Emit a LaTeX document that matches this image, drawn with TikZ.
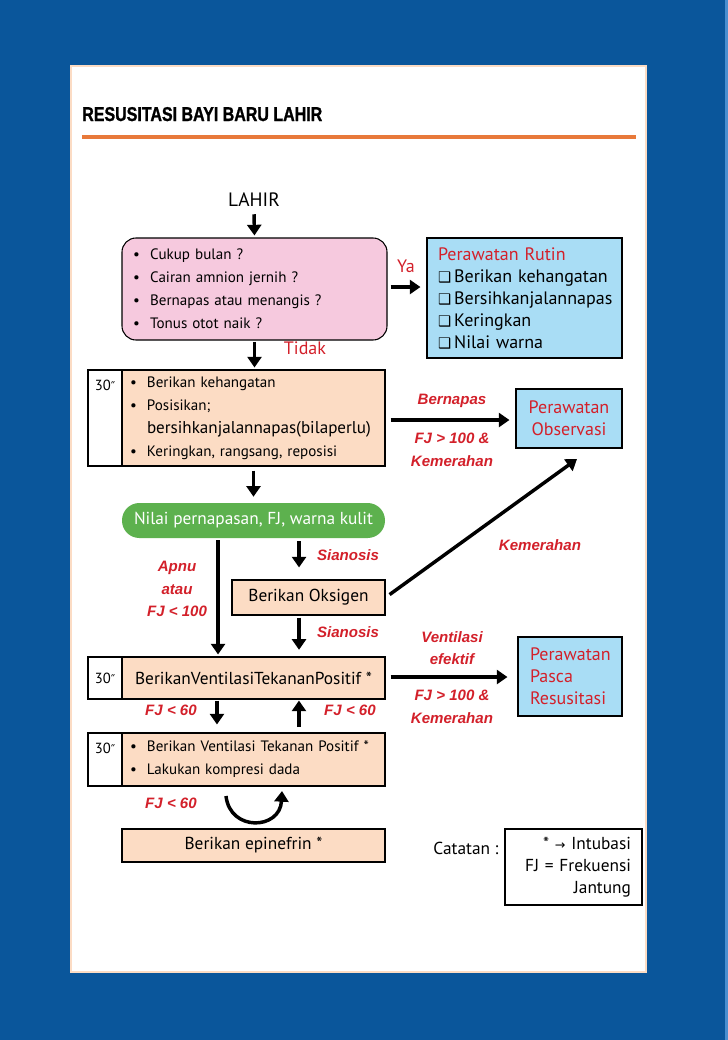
\documentclass[tikz,border=0pt]{standalone}
\usepackage{fontspec}
\setmainfont{PT Sans}
\newfontfamily\labelfont{Liberation Sans}
\newfontfamily\titlefont[FakeStretch=0.8,BoldFeatures={FakeBold=1.2}]{Liberation Sans}
\newfontfamily\symfont{DejaVu Sans}
\usetikzlibrary{arrows.meta}

\definecolor{pageblue}{HTML}{0A569B}
\definecolor{stripblue}{HTML}{4A8FD0}
\definecolor{titleorange}{HTML}{E8793A}
\definecolor{pinkfill}{HTML}{F6C9DE}
\definecolor{peachfill}{HTML}{FCDCC4}
\definecolor{skyfill}{HTML}{A9DDF5}
\definecolor{greenfill}{HTML}{5DB14E}
\definecolor{labelred}{HTML}{D3202A}

\newcommand\butir{\makebox[12.75pt][l]{\textbullet}}
\newcommand\kotak{{\symfont\fontsize{11}{10}\selectfont ❑}\,}
\newcommand\detik{30{\symfont\fontsize{9}{10}\selectfont ″}}

\begin{document}
\begin{tikzpicture}[x=0.75pt,y=-0.75pt,
  panah/.style={line width=2.6pt,-{Triangle[length=8pt,width=10.5pt]}},
  kotakpeach/.style={draw,line width=0.8pt,fill=peachfill},
  kotaksel/.style={draw,line width=0.8pt,fill=white,minimum width=25.5pt,font=\fontsize{11}{12}\selectfont},
  kotakbiru/.style={draw,line width=0.8pt,fill=skyfill,text=labelred,font=\fontsize{13.5}{16.5}\selectfont},
  ketmerah/.style={text=labelred,align=center,font=\labelfont\bfseries\itshape\fontsize{11.3}{17}\selectfont},
  teksmerah/.style={text=labelred,font=\fontsize{13.5}{14}\selectfont},
  teksbox/.style={font=\fontsize{13}{15}\selectfont},
  daftar/.style={align=left,font=\fontsize{11.3}{17.25}\selectfont}]

% halaman
\fill[pageblue] (0,0) rectangle (728,1040);
\fill[stripblue] (725,0) rectangle (728,1040);
\filldraw[fill=white,draw=peachfill,line width=0.8pt] (71,66) rectangle (646,972);
\node[anchor=base west,inner sep=0pt,font=\titlefont\bfseries\fontsize{15}{18}\selectfont] (judul) at (82,121) {RESUSITASI BAYI BARU LAHIR};
\draw[titleorange,line width=3pt] (82,137) -- (636,137);

% kotak-kotak
\node[font=\fontsize{14.5}{15}\selectfont] (lahir) at (254,200) {LAHIR};
\node[draw,line width=0.8pt,fill=pinkfill,rounded corners=10.5pt,minimum width=198.75pt,minimum height=76.5pt,text width=182pt,inner xsep=8.25pt,daftar] (cek) at (254.5,289)
  {\butir Cukup bulan ?\\ \butir Cairan amnion jernih ?\\ \butir Bernapas atau menangis ?\\ \butir Tonus otot naik ?};
\node[kotakbiru,minimum width=146.25pt,minimum height=90pt,text width=129.75pt,inner xsep=8.25pt,align=left] (rutin) at (524.5,298)
  {Perawatan Rutin\\ \textcolor{black}{\kotak Berikan kehangatan}\\ \textcolor{black}{\kotak Bersihkanjalannapas}\\ \textcolor{black}{\kotak Keringkan}\\ \textcolor{black}{\kotak Nilai warna}};

\node[kotakpeach,minimum width=197.25pt,minimum height=72pt,text width=185.25pt,inner xsep=6pt,daftar] (hangat) at (253.5,418)
  {\butir Berikan kehangatan\\ \butir Posisikan;\\ \hspace*{12.75pt}\mbox{\fontsize{12.8}{17.25}\selectfont bersihkanjalannapas(bilaperlu)}\\ \butir Keringkan, rangsang, reposisi};
\node[kotaksel,minimum height=72pt] (sel1) at (105,418) {};
\node[font=\fontsize{11}{12}\selectfont] (waktu1) at (105,385) {\detik};
\node[kotakbiru,minimum width=79.5pt,minimum height=44.25pt,align=center] (observasi) at (569,418.5) {Perawatan\\Observasi};

\node[fill=greenfill,rounded corners=13pt,minimum width=197.25pt,minimum height=26.25pt,text=white,teksbox] (nilai) at (253.5,520.5) {Nilai pernapasan, FJ, warna kulit};
\node[kotakpeach,minimum width=114.75pt,minimum height=26.25pt,teksbox] (oksigen) at (308.5,597.5) {Berikan Oksigen};

\node[kotakpeach,minimum width=197.25pt,minimum height=31.5pt,teksbox] (ventilasi) at (253.5,678) {BerikanVentilasiTekananPositif *};
\node[kotaksel,minimum height=31.5pt] (sel2) at (105,678) {\detik};
\node[kotakbiru,minimum width=78pt,minimum height=59.25pt,text width=60pt,inner xsep=9pt,align=left] (pasca) at (570,676.5) {Perawatan\\Pasca\\Resusitasi};

\node[kotakpeach,minimum width=197.25pt,minimum height=39.75pt,text width=185.25pt,inner xsep=6pt,daftar] (kompresi) at (253.5,759.5)
  {\butir Berikan Ventilasi Tekanan Positif *\\ \butir Lakukan kompresi dada};
\node[kotaksel,minimum height=39.75pt] (sel3) at (105,759.5) {};
\node[font=\fontsize{11}{12}\selectfont] (waktu3) at (105,748) {\detik};

\node[kotakpeach,minimum width=197.25pt,minimum height=24.75pt,teksbox] (epinefrin) at (253.5,845.5) {Berikan epinefrin *};

\node[teksbox] (catatan) at (466,848) {Catatan :};
\node[draw,line width=0.8pt,minimum width=102.75pt,minimum height=57pt,text width=86.25pt,inner xsep=8.25pt,align=right,font=\fontsize{13}{16.5}\selectfont] (keterangan) at (573.5,867)
  {* {\symfont\fontsize{9.5}{10}\selectfont →} Intubasi\\FJ = Frekuensi\\Jantung};

% panah
\draw[panah,shorten <=2pt,shorten >=1.5pt] (lahir.south) -- (cek.north);
\draw[panah,shorten <=2.25pt,shorten >=4.5pt] ([yshift=1.5pt]cek.east) -- ([yshift=1.5pt]cek.east -| rutin.west);
\draw[panah,shorten <=1pt,shorten >=1.5pt] (cek.south) -- (cek.south |- hangat.north);
\draw[panah,shorten <=3pt,shorten >=4.5pt] (hangat.south) -- (nilai.north);
\draw[panah,shorten <=3.75pt,shorten >=4.5pt] ([yshift=-1.5pt]hangat.east) -- ([yshift=-1.5pt]hangat.east -| observasi.west);
\draw[panah,shorten <=1.5pt,shorten >=1.5pt] ([xshift=-26.6pt]nilai.south) -- ([xshift=-26.6pt]nilai.south |- ventilasi.north);
\draw[panah,shorten <=2.25pt,shorten >=9pt] ([xshift=-7.1pt]oksigen.north |- nilai.south) -- ([xshift=-7.1pt]oksigen.north);
\draw[panah,shorten <=1.5pt,shorten >=5pt] ([xshift=-7.1pt]oksigen.south) -- ([xshift=-7.1pt]oksigen.south |- ventilasi.north);
\coordinate (kena) at (577,459);
\draw[panah,shorten <=3.75pt] (oksigen.east) -- (kena);
\draw[panah,shorten <=3.75pt,shorten >=7.5pt] ([yshift=0.75pt]ventilasi.east) -- ([yshift=0.75pt]ventilasi.east -| pasca.west);
\draw[panah,shorten <=0.75pt,shorten >=6pt] ([xshift=-27.4pt]ventilasi.south) -- ([xshift=-27.4pt]ventilasi.south |- kompresi.north);
\draw[panah,shorten <=4pt,shorten >=0.75pt] ([xshift=34.1pt]kompresi.north) -- ([xshift=34.1pt]kompresi.north |- ventilasi.south);
\coordinate (putar1) at (226,796);
\coordinate (putar2) at (282,791);
\draw[panah] (putar1) .. controls (230,832) and (280,830) .. (putar2);

% keterangan merah
\node[teksmerah] (ya) at (406,266) {Ya};
\node[teksmerah] (tidak) at (305,348) {Tidak};
\node[ketmerah] (bernapas) at (452,401) {Bernapas};
\node[ketmerah] (fj1) at (452,450) {FJ > 100 \&\\Kemerahan};
\node[ketmerah] (apnu) at (177,589) {Apnu\\atau\\FJ < 100};
\node[ketmerah] (sianosis1) at (348,555) {Sianosis};
\node[ketmerah] (sianosis2) at (348,632) {Sianosis};
\node[ketmerah] (kemerahan) at (540,545) {Kemerahan};
\node[ketmerah] (efektif) at (452,648) {Ventilasi\\efektif};
\node[ketmerah] (fj2) at (452,707) {FJ > 100 \&\\Kemerahan};
\node[ketmerah] (fj3) at (171,710) {FJ < 60};
\node[ketmerah] (fj4) at (350,710) {FJ < 60};
\node[ketmerah] (fj5) at (171,803) {FJ < 60};

\end{tikzpicture}
\end{document}
